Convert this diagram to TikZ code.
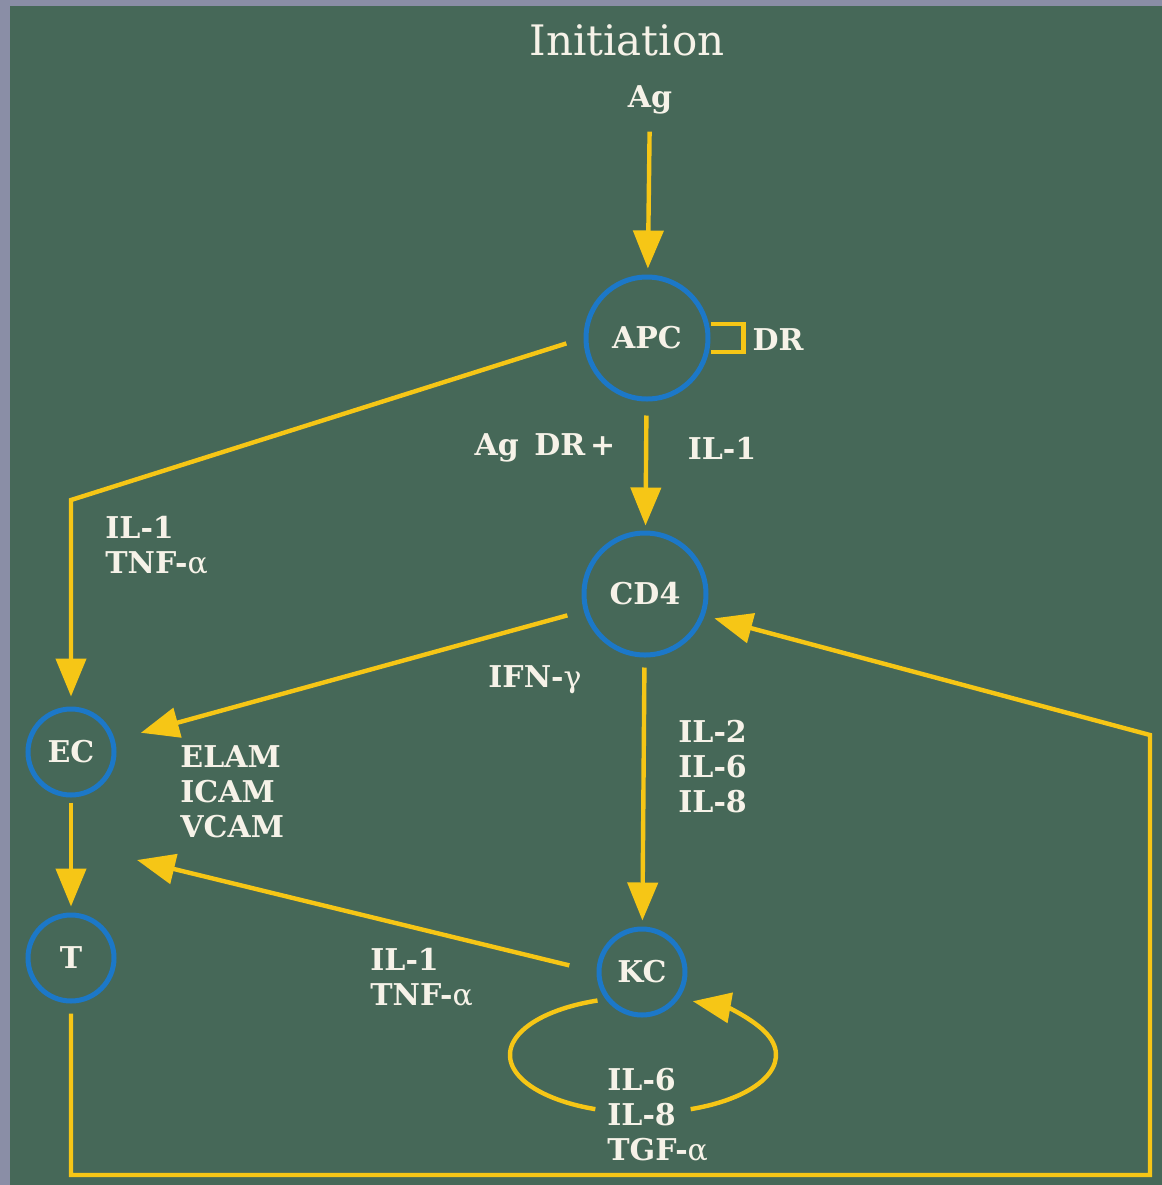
\documentclass[tikz,border=0pt]{standalone}
\usepackage{fontspec}
\setmainfont{DejaVu Serif}
\usetikzlibrary{arrows.meta, positioning}
\definecolor{board}{RGB}{70,104,88}
\definecolor{frame}{RGB}{138,142,166}
\definecolor{arrowyel}{RGB}{246,198,22}
\definecolor{cellblue}{RGB}{28,120,200}
\definecolor{chalk}{RGB}{246,242,232}
\newcommand{\greek}[1]{{\mdseries #1}}
\tikzset{
  flow/.style={line width=2.2pt, draw=arrowyel, -{Triangle[length=19pt, width=15pt]}},
  link/.style={line width=2.2pt, draw=arrowyel},
  cell/.style={circle, draw=cellblue, line width=2.5pt, minimum size=61pt, inner sep=0pt,
    text=chalk, font=\fontsize{15}{17}\selectfont\bfseries},
  smallcell/.style={cell, minimum size=43pt},
  lbl/.style={text=chalk, font=\fontsize{15}{17.5}\selectfont\bfseries, inner sep=0pt},
  stack/.style={lbl, align=left, anchor=west},
}

\begin{document}
\begin{tikzpicture}[x=0.5pt, y=-0.5pt]

  % board
  \fill[frame] (0,0) rectangle (1162,1185);
  \fill[board] (10,6) rectangle (1162,1185);
  \useasboundingbox (0,0) rectangle (1162,1185);

  % cells
  \node[text=chalk, font=\fontsize{21}{24}\selectfont] (title) at (627,40) {Initiation};
  \node[lbl]       (ag)    at (650,100) {Ag};
  \node[cell]      (apc)   at (647,338) {APC};
  \node[lbl]       (dr)    at (778,340) {DR};
  \node[cell]      (cd4)   at (645,594) {CD4};
  \node[smallcell] (ec)    at (71,752)  {EC};
  \node[smallcell] (tcell) at (71,958)  {T};
  \node[smallcell] (kc)    at (642,972) {KC};

  % mediators
  \node[lbl]   (agdr)   at (545,448)  {Ag\ \,DR\,+};
  \node[lbl]   (ilapc)  at (722,448)  {IL-1};
  \node[stack] (ilec)   at (105,545)  {IL-1\\TNF-\greek{α}};
  \node[lbl]   (ifn)    at (535,680)  {IFN-\greek{γ}};
  \node[stack] (ilcd4)  at (678,767)  {IL-2\\IL-6\\IL-8};
  \node[stack] (cams)   at (180,792)  {ELAM\\ICAM\\VCAM};
  \node[stack] (ilkc)   at (370,977)  {IL-1\\TNF-\greek{α}};
  \node[stack] (illoop) at (607,1115) {IL-6\\IL-8\\TGF-\greek{α}};

  % bends
  \coordinate (ecbend)   at (71,500);
  \coordinate (ectarget) at (137,860);
  \coordinate (kcloop)   at (643,1055);
  \coordinate (fbleft)   at (71,1175);
  \coordinate (fbright)  at (1150,1175);
  \coordinate (fbtop)    at (1150,735);

  % antigen presentation
  \draw[flow, shorten <=8.5pt, shorten >=3pt] (ag) -- (apc);
  \draw[link] ([yshift=7pt]apc.east) -- ++(16.5pt,0) -- ++(0,-14pt) -- ++(-16.5pt,0);
  \draw[flow, shorten <=7pt, shorten >=2.5pt] (apc) -- (cd4);
  \draw[flow, shorten <=9pt, shorten >=5pt] (apc.west) -- (ecbend) -- (ec);

  % from CD4
  \draw[flow, shorten <=8.5pt, shorten >=13.5pt] (cd4) -- (ec);
  \draw[flow, shorten <=5pt, shorten >=3pt] (cd4) -- (kc);

  % endothelium and T cells
  \draw[flow, shorten <=2.5pt, shorten >=3pt] (ec) -- (tcell);
  \draw[flow, shorten <=14pt] (kc.west) -- (ectarget);

  % KC autocrine loop
  \draw[link] ([shift={(250:133 and 58)}]kcloop) arc[start angle=250, end angle=111, x radius=133, y radius=58];
  \draw[flow] ([shift={(69:133 and 58)}]kcloop) arc[start angle=69, end angle=-68, x radius=133, y radius=58];

  % feedback to CD4
  \draw[flow, shorten <=5pt, shorten >=5pt] (tcell) -- (fbleft) -- (fbright) -- (fbtop) -- (cd4.-20);

\end{tikzpicture}
\end{document}
